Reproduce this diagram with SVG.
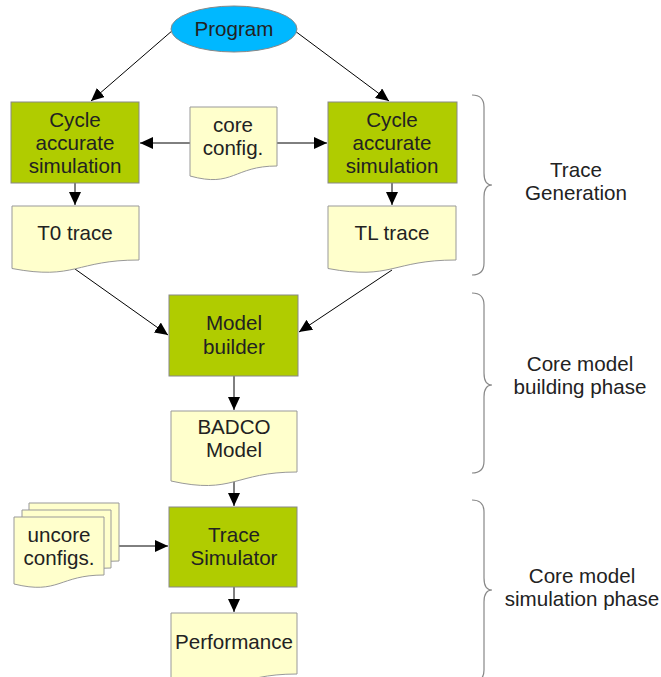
<svg xmlns="http://www.w3.org/2000/svg" width="661" height="677" viewBox="0 0 661 677">
<style>
text{font-family:"Liberation Sans",Arial,sans-serif;font-size:20.6px;fill:#222;text-anchor:middle}
.box{fill:#b0cc00;stroke:#888;stroke-width:1}
.doc{fill:#ffffcc;stroke:#999;stroke-width:1}
.edge{stroke:#000;stroke-width:1;fill:none;marker-end:url(#ah)}
.brace{fill:none;stroke:#888;stroke-width:1.2}
</style>
<defs>
<marker id="ah" markerUnits="userSpaceOnUse" markerWidth="14" markerHeight="12" refX="13" refY="6" orient="auto">
<path d="M0,0 L13,6 L0,12 Z" fill="#000"/>
</marker>
</defs>
<rect width="661" height="677" fill="#fff"/>
<g id="connectors">
<line class="edge" x1="173" y1="30" x2="91" y2="101"/>
<line class="edge" x1="295" y1="31" x2="389" y2="101"/>
<line class="edge" x1="190" y1="143" x2="140" y2="143"/>
<line class="edge" x1="277" y1="143" x2="327" y2="143"/>
<line class="edge" x1="75" y1="183" x2="75" y2="205"/>
<line class="edge" x1="392" y1="183" x2="392" y2="205"/>
<line class="edge" x1="75" y1="269" x2="168" y2="335"/>
<line class="edge" x1="392" y1="270" x2="299" y2="332"/>
<line class="edge" x1="234" y1="376" x2="234" y2="410"/>
<line class="edge" x1="234" y1="478" x2="234" y2="506"/>
<line class="edge" x1="119" y1="546" x2="168" y2="546"/>
<line class="edge" x1="234" y1="587" x2="234" y2="612"/>
</g>
<g id="program">
<ellipse cx="234" cy="29" rx="63" ry="23" fill="#00b8ff" stroke="#888"/>
<text x="234" y="36">Program</text>
</g>
<g id="cycle-left">
<rect class="box" x="11" y="102" width="128" height="81"/>
<text x="75" y="127">Cycle</text>
<text x="75" y="150">accurate</text>
<text x="75" y="173">simulation</text>
</g>
<g id="core-config">
<path class="doc" d="M190,107 H277 V166 C233.5,166 233.5,188 190,176 Z"/>
<text x="233" y="132">core</text>
<text x="233" y="155">config.</text>
</g>
<g id="cycle-right">
<rect class="box" x="328" y="102" width="129" height="81"/>
<text x="392" y="127">Cycle</text>
<text x="392" y="150">accurate</text>
<text x="392" y="173">simulation</text>
</g>
<g id="t0-trace">
<path class="doc" d="M12,206 H139 V260 C75.5,260 75.5,280.5 12,268.5 Z"/>
<text x="75" y="240">T0 trace</text>
</g>
<g id="tl-trace">
<path class="doc" d="M328,206 H456 V260 C392,260 392,280.5 328,268.5 Z"/>
<text x="392" y="240">TL trace</text>
</g>
<g id="model-builder">
<rect class="box" x="169" y="295" width="129" height="81"/>
<text x="234" y="330">Model</text>
<text x="234" y="354">builder</text>
</g>
<g id="badco-model">
<path class="doc" d="M171,411 H297 V472 C234,472 234,495 171,481 Z"/>
<text x="234" y="434">BADCO</text>
<text x="234" y="457">Model</text>
</g>
<g id="uncore-configs">
<path class="doc" d="M29,503 H119 V561 C74,561 74,581 29,570 Z"/>
<path class="doc" d="M22,510 H111 V568 C66.5,568 66.5,588 22,577 Z"/>
<path class="doc" d="M14,517 H104 V575 C59,575 59,595 14,584 Z"/>
<text x="59" y="542">uncore</text>
<text x="59" y="565">configs.</text>
</g>
<g id="trace-simulator">
<rect class="box" x="169" y="507" width="128" height="80"/>
<text x="234" y="542">Trace</text>
<text x="234" y="565">Simulator</text>
</g>
<g id="performance">
<path class="doc" d="M171,613 H297 V674 C234,674 234,697 171,683 Z"/>
<text x="234" y="649">Performance</text>
</g>
<g id="phase-trace-generation">
<path class="brace" d="M472,95 Q484,95 484,107 V173 Q484,185 492,185 Q484,185 484,197 V263 Q484,275 472,275"/>
<text x="576" y="177">Trace</text>
<text x="576" y="200">Generation</text>
</g>
<g id="phase-building">
<path class="brace" d="M472,293 Q484,293 484,305 V373 Q484,385 492,385 Q484,385 484,397 V461 Q484,473 472,473"/>
<text x="580" y="371">Core model</text>
<text x="580" y="394">building phase</text>
</g>
<g id="phase-simulation">
<path class="brace" d="M472,500 Q484,500 484,512 V578 Q484,590 492,590 Q484,590 484,602 V670 Q484,682 472,682"/>
<text x="582" y="583">Core model</text>
<text x="582" y="606">simulation phase</text>
</g>
</svg>
